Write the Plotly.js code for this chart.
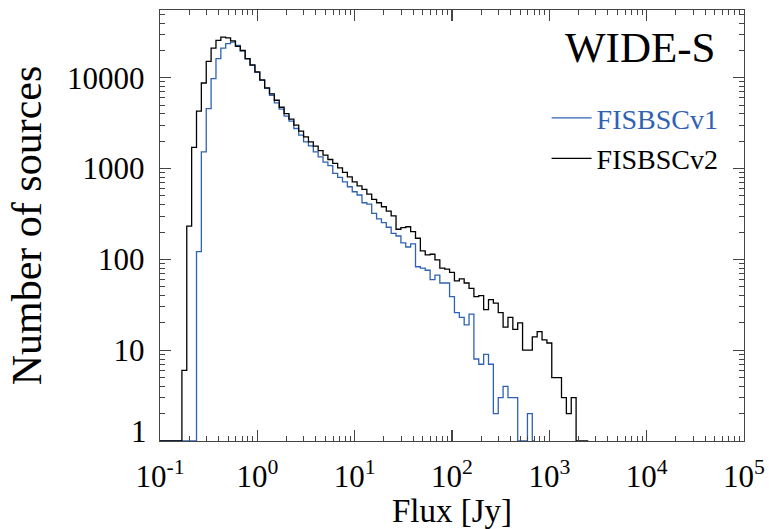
<!DOCTYPE html>
<html><head><meta charset="utf-8">
<script src="https://cdn.plot.ly/plotly-3.0.1.min.js"></script>
<style>html,body{margin:0;padding:0;background:#fff}#chart{width:769px;height:529px}</style>
</head><body><div id="chart"></div>
<script>
// log10(flux / Jy) at the centre of each histogram bin
const logFluxBins = [
 -1.00,-0.95,-0.90,-0.85,-0.80,-0.75,-0.70,-0.65,-0.60,-0.55,
 -0.50,-0.45,-0.40,-0.35,-0.30,-0.25,-0.20,-0.15,-0.10,-0.05,
  0.00, 0.05, 0.10, 0.15, 0.20, 0.25, 0.30, 0.35, 0.40, 0.45,
  0.50, 0.55, 0.60, 0.65, 0.70, 0.75, 0.80, 0.85, 0.90, 0.95,
  1.00, 1.05, 1.10, 1.15, 1.20, 1.25, 1.30, 1.35, 1.40, 1.45,
  1.50, 1.55, 1.60, 1.65, 1.70, 1.75, 1.80, 1.85, 1.90, 1.95,
  2.00, 2.05, 2.10, 2.15, 2.20, 2.25, 2.30, 2.35, 2.40, 2.45,
  2.50, 2.55, 2.60, 2.65, 2.70, 2.75, 2.80, 2.85, 2.90, 2.95,
  3.00, 3.05, 3.10, 3.15, 3.20, 3.25, 3.30, 3.35, 3.40
];
// FISBSCv1 counts (bins from -1.00 to 2.85)
const countsV1 = [
 1,1,1,1,1,1,1,1,122,1530,
 4590,9800,16250,21250,23770,24730,22760,19800,16180,13720,
 11490,9390,7670,6430,5290,4510,3780,3330,2765,2335,
 1970,1780,1530,1350,1178,1079,886,800,716,631,
 556,512,421,407,322,279,254,226,194,181,
 152,137,148,83,80,76,60,67,55,55,
 39,26,23,19,25,8,7,9,7,2,
 3,4,3,3,1,1,2,1
];
// FISBSCv2 counts (bins from -1.00 to 3.40)
const countsV2 = [
 1,1,1,1,1,6,233,1710,4290,8770,
 15200,21200,25800,28100,27500,25500,22200,20000,16300,13900,
 11600,9500,7760,6670,5660,4740,4040,3500,3010,2590,
 2240,1970,1770,1580,1410,1260,1140,1020,908,813,
 716,647,591,525,459,421,380,341,301,215,
 224,229,202,171,124,112,114,99,80,78,
 72,58,61,55,48,39,40,28,36,33,
 26,18,23,17,20,10,10,14,16,13,
 12,5,5,3,2,3,1,1,1
];
const seriesNames = ['FISBSCv1', 'FISBSCv2'];
const seriesColors = ['#2f62b4', '#000000'];
const panelLabel = 'WIDE-S';
const xTitle = 'Flux [Jy]';
const yTitle = 'Number of sources';
const xTickVals = [0.1, 1, 10, 100, 1000, 10000, 100000];
const xTickText = ['10<sup>-1</sup>','10<sup>0</sup>','10<sup>1</sup>','10<sup>2</sup>','10<sup>3</sup>','10<sup>4</sup>','10<sup>5</sup>'];
const yTickVals = [1, 10, 100, 1000, 10000];
const yTickText = ['1', '10', '100', '1000', '10000'];

function minorVals(lo, hi) {
  const out = [];
  for (let e = lo; e < hi; e++) for (let m = 2; m <= 9; m++) out.push(m * Math.pow(10, e));
  return out;
}
const flux = logFluxBins.map(v => Math.pow(10, v));
const FONT = 'Liberation Serif, Times New Roman, serif';
const AX = '#444';

const traces = [
  { x: flux.slice(0, countsV1.length), y: countsV1, type: 'scatter', mode: 'lines',
    line: { shape: 'hvh', color: seriesColors[0], width: 1.3 },
    name: '<span style="color:' + seriesColors[0] + '">' + seriesNames[0] + '</span>',
    legendgroup: 'a', hoverinfo: 'x+y' },
  { x: flux.slice(0, countsV2.length), y: countsV2, type: 'scatter', mode: 'lines',
    line: { shape: 'hvh', color: seriesColors[1], width: 1.3 },
    name: seriesNames[1], legendgroup: 'b', hoverinfo: 'x+y' }
];

function axis(extra) {
  return Object.assign({
    type: 'log', showgrid: false, zeroline: false, showline: true,
    linecolor: AX, linewidth: 1.2, mirror: 'ticks', ticks: 'inside',
    ticklen: 11, tickwidth: 1.2, tickcolor: AX, tickmode: 'array',
    tickfont: { family: FONT, size: 31, color: '#000' }
  }, extra);
}

// the lowest y tick label sits a little above its tick, as in the reference
const yTickTextShown = yTickText.map((t, i) => i === 0 ? '' : t);

const layout = {
  width: 769, height: 529, autosize: false,
  paper_bgcolor: '#fff', plot_bgcolor: '#fff',
  margin: { l: 160, r: 25, t: 10, b: 88 },
  font: { family: FONT, color: '#000' },
  showlegend: true,
  legend: { x: 0.662, y: 0.807, xanchor: 'left', yanchor: 'top',
    bgcolor: 'rgba(0,0,0,0)', borderwidth: 0,
    font: { family: FONT, size: 28, color: '#000' },
    traceorder: 'grouped', tracegroupgap: 1, itemwidth: 40 },
  xaxis: axis({ range: [-1, 5], tickvals: xTickVals, ticktext: xTickText,
    tickfont: { family: FONT, size: 31, color: '#000' }, ticklabelstandoff: 8,
    minor: { tickmode: 'array', tickvals: minorVals(-1, 5), ticks: 'inside', ticklen: 5, tickwidth: 1, tickcolor: AX, showgrid: false },
    title: { text: xTitle, font: { family: FONT, size: 33, color: '#000' }, standoff: 10 } }),
  yaxis: axis({ range: [0, 4.747], tickvals: yTickVals, ticktext: yTickTextShown,
    ticklabelstandoff: 8,
    minor: { tickmode: 'array', tickvals: minorVals(0, 5), ticks: 'inside', ticklen: 5, tickwidth: 1, tickcolor: AX, showgrid: false },
    title: { text: yTitle, font: { family: FONT, size: 42, color: '#000' }, standoff: 12 } }),
  annotations: [
    { text: panelLabel, xref: 'paper', yref: 'paper', x: 0.822, y: 0.914,
      xanchor: 'center', yanchor: 'middle', showarrow: false,
      font: { family: FONT, size: 43, color: '#000' } },
    { text: yTickText[0], xref: 'paper', yref: 'y', x: 0, y: Math.log10(yTickVals[0]),
      xanchor: 'right', yanchor: 'middle', xshift: -11, yshift: 10, showarrow: false,
      font: { family: FONT, size: 31, color: '#000' } }
  ]
};

Plotly.newPlot('chart', traces, layout, { displayModeBar: false, staticPlot: true });
</script>
</body></html>
